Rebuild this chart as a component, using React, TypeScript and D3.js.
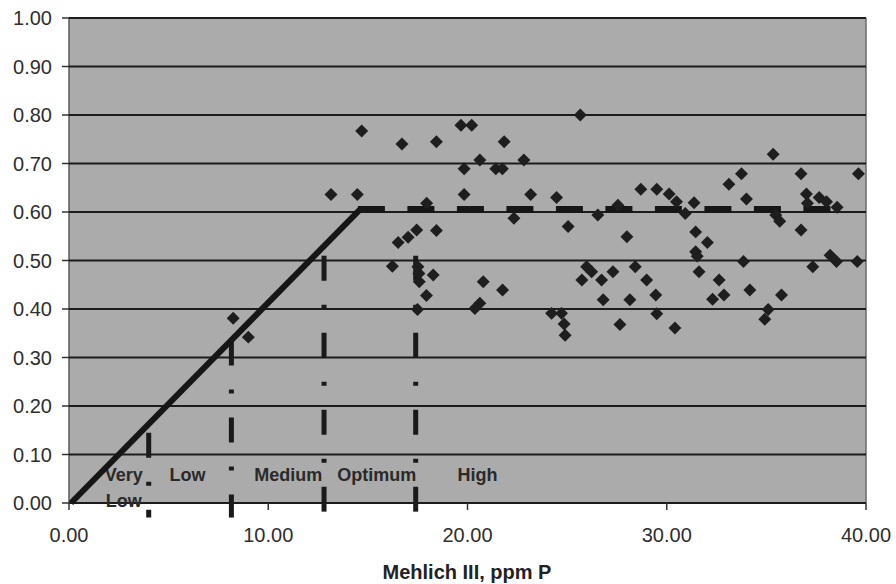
import React, { useEffect, useRef } from 'react';
import * as d3 from 'd3';

// Mehlich III soil test P (ppm) and relative response
const mehlichP = [
  13.15, 14.47, 14.69, 16.71, 18.44, 17.95, 17.45, 18.44, 17.02, 16.52,
  16.23, 17.51, 17.56, 17.58, 18.28, 17.94, 17.49, 8.24, 9.0, 19.67,
  20.21, 21.84, 20.62, 22.83, 19.83, 21.42, 21.75, 25.66, 19.83, 23.17,
  24.47, 22.33, 26.54, 25.05, 20.79, 21.76, 20.62, 20.37, 24.22, 24.72,
  24.85, 24.9, 25.98, 26.23, 25.74, 26.73, 27.3, 28.42, 28.99, 29.45,
  26.81, 28.15, 29.5, 27.65, 30.41, 28.0, 28.7, 29.5, 30.12, 30.49,
  31.37, 30.93, 33.12, 33.75, 35.34, 36.74, 39.62, 34.0, 37.01, 37.65,
  38.02, 38.55, 37.06, 27.55, 35.47, 35.67, 36.74, 31.45, 32.04, 31.45,
  31.53, 33.85, 38.2, 38.52, 39.56, 37.33, 31.62, 32.63, 34.17, 35.76,
  32.3, 32.87, 35.09, 34.92,
];
const relResponse = [
  0.636, 0.636, 0.767, 0.74, 0.745, 0.618, 0.563, 0.562, 0.548, 0.537,
  0.488, 0.487, 0.473, 0.456, 0.47, 0.428, 0.399, 0.381, 0.342, 0.779,
  0.779, 0.745, 0.707, 0.707, 0.689, 0.689, 0.689, 0.8, 0.636, 0.636,
  0.63, 0.587, 0.594, 0.57, 0.456, 0.439, 0.412, 0.401, 0.391, 0.391,
  0.369, 0.346, 0.487, 0.477, 0.46, 0.46, 0.477, 0.487, 0.46, 0.429,
  0.419, 0.419, 0.39, 0.368, 0.361, 0.549, 0.647, 0.647, 0.637, 0.621,
  0.619, 0.597, 0.657, 0.679, 0.719, 0.679, 0.679, 0.627, 0.637, 0.63,
  0.621, 0.61, 0.618, 0.614, 0.594, 0.581, 0.563, 0.559, 0.537, 0.518,
  0.509, 0.498, 0.511, 0.498, 0.498, 0.487, 0.477, 0.46, 0.439, 0.429,
  0.42, 0.429, 0.399, 0.379,
];

const xTicks = [0, 10, 20, 30, 40];
const yTicks = [0, 0.1, 0.2, 0.3, 0.4, 0.5, 0.6, 0.7, 0.8, 0.9, 1.0];

// linear-plateau model
const slopeLine = [[0.1, 0], [14.6, 0.605]];
const plateauLine = [[14.5, 0.605], [39.2, 0.605]];

// soil test category boundaries
const zoneBounds = [4.0, 8.15, 12.8, 17.4];
const zoneTops = [0.145, 0.335, 0.51, 0.51];
const zoneBottom = -0.03;
const zoneNames = [['Very', 'Low'], ['Low'], ['Medium'], ['Optimum'], ['High']];
const zoneLabelX = [2.75, 5.95, 11.0, 15.45, 20.5];

const W = 896, H = 584;
const margin = { top: 18, right: 30, bottom: 81, left: 69 };

const App = () => {
  const ref = useRef(null);

  useEffect(() => {
    const svg = d3.select(ref.current);
    svg.selectAll('*').remove();

    const width = W - margin.left - margin.right;
    const height = H - margin.top - margin.bottom;
    const font = '"Liberation Sans", Arial, sans-serif';

    const x = d3.scaleLinear().domain([0, 40]).range([0, width]);
    const y = d3.scaleLinear().domain([0, 1]).range([height, 0]);

    const g = svg.append('g').attr('transform', `translate(${margin.left},${margin.top})`);

    // plot area
    g.append('rect')
      .attr('width', width).attr('height', height)
      .attr('fill', '#ababab');
    g.append('line').attr('x1', width).attr('x2', width).attr('y1', 0).attr('y2', height)
      .attr('stroke', '#6a6a6a').attr('stroke-width', 1.5);
    g.append('line').attr('x1', 0).attr('x2', 0).attr('y1', 0).attr('y2', height)
      .attr('stroke', '#5a5a5a').attr('stroke-width', 1.5);

    // horizontal gridlines
    g.selectAll('.grid').data(yTicks).enter().append('line')
      .attr('x1', 0).attr('x2', width)
      .attr('y1', d => y(d)).attr('y2', d => y(d))
      .attr('stroke', '#1c1c1c').attr('stroke-width', 2);

    // y ticks + labels
    g.selectAll('.ytick').data(yTicks).enter().append('line')
      .attr('x1', -7).attr('x2', 0)
      .attr('y1', d => y(d)).attr('y2', d => y(d))
      .attr('stroke', '#333').attr('stroke-width', 1.5);
    g.selectAll('.ylab').data(yTicks).enter().append('text')
      .attr('x', -17).attr('y', d => y(d) + 7)
      .attr('text-anchor', 'end')
      .style('font-family', font).style('font-size', '20px').attr('fill', '#2e2e2e')
      .text(d => d.toFixed(2));

    // x ticks + labels
    g.selectAll('.xtick').data(xTicks).enter().append('line')
      .attr('x1', d => x(d)).attr('x2', d => x(d))
      .attr('y1', height).attr('y2', height + 7)
      .attr('stroke', '#333').attr('stroke-width', 1.5);
    g.selectAll('.xlab').data(xTicks).enter().append('text')
      .attr('x', d => x(d)).attr('y', height + 39)
      .attr('text-anchor', 'middle')
      .style('font-family', font).style('font-size', '20px').attr('fill', '#2e2e2e')
      .text(d => d.toFixed(2));

    // category labels
    zoneNames.forEach((lines, i) => {
      lines.forEach((t, j) => {
        g.append('text')
          .attr('x', x(zoneLabelX[i]))
          .attr('y', y(0) - 22 + j * 26)
          .attr('text-anchor', 'middle')
          .style('font-family', font).style('font-size', '18px').style('font-weight', 'bold')
          .attr('fill', '#2a2a2a')
          .text(t);
      });
    });

    // category boundaries (long dash dot)
    g.selectAll('.zone').data(zoneBounds).enter().append('line')
      .attr('x1', d => x(d)).attr('x2', d => x(d))
      .attr('y1', (d, i) => y(zoneTops[i])).attr('y2', y(zoneBottom))
      .attr('stroke', '#1a1a1a').attr('stroke-width', 5)
      .attr('stroke-dasharray', '25 24 4 24');

    // model lines
    const line = d3.line().x(d => x(d[0])).y(d => y(d[1]));
    g.append('path').datum(slopeLine)
      .attr('d', line).attr('fill', 'none')
      .attr('stroke', '#161616').attr('stroke-width', 6);
    g.append('path').datum(plateauLine)
      .attr('d', line).attr('fill', 'none')
      .attr('stroke', '#161616').attr('stroke-width', 7)
      .attr('stroke-dasharray', '27 22.5');

    // observations
    const diamond = d3.symbol().type(d3.symbolSquare).size(84);
    g.selectAll('.pt').data(mehlichP).enter().append('path')
      .attr('d', diamond)
      .attr('transform', (d, i) => `translate(${x(d)},${y(relResponse[i])}) rotate(45)`)
      .attr('fill', '#1e1e1e');

    // axis title
    svg.append('text')
      .attr('x', 467).attr('y', 579)
      .attr('text-anchor', 'middle')
      .style('font-family', font).style('font-size', '20px').style('font-weight', 'bold')
      .attr('fill', '#222')
      .text('Mehlich III, ppm P');
  }, []);

  return (
    <svg ref={ref} width={W} height={H}
      style={{ position: 'absolute', left: 0, top: 0, background: '#fff' }} />
  );
};

export default App;
